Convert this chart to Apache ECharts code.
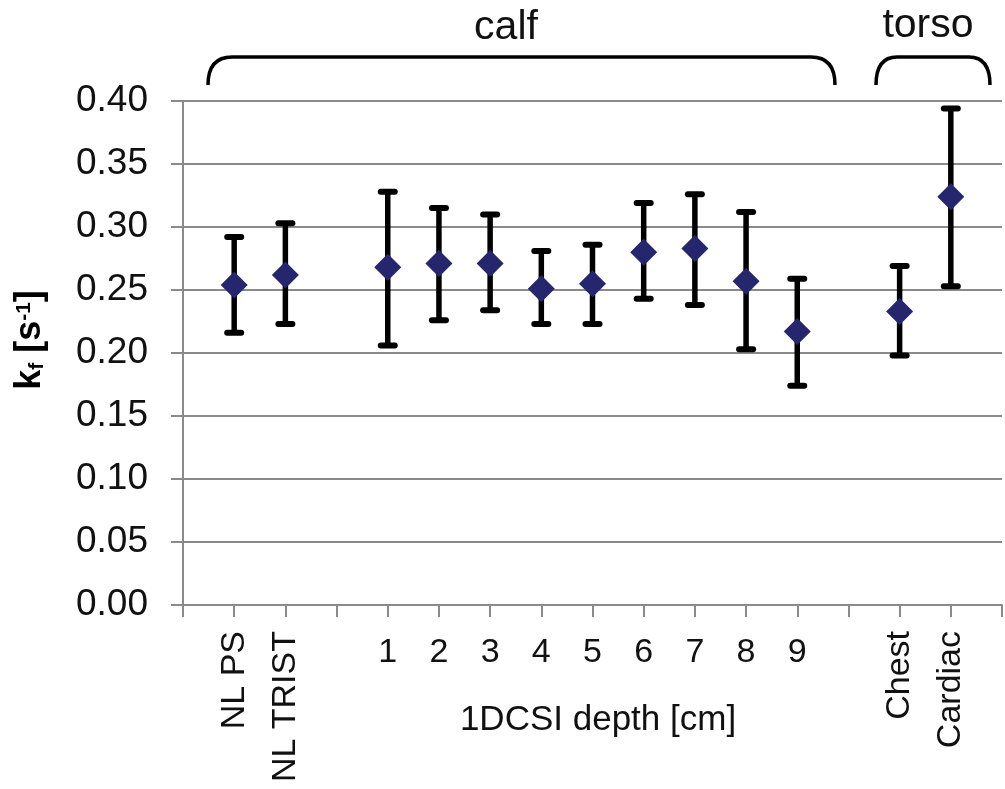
<!DOCTYPE html>
<html>
<head>
<meta charset="utf-8">
<script src="https://cdn.jsdelivr.net/npm/echarts@6/dist/echarts.min.js"></script>
<style>
  html, body { margin: 0; padding: 0; background: #fff; }
  #chart { width: 1005px; height: 789px; }
</style>
</head>
<body>
<div id="chart"></div>
<script>
// ---- data ----
// category slots along the x axis (blank slots are spacers)
const categories = ['', 'NL PS', 'NL TRIST', '', '1', '2', '3', '4', '5', '6', '7', '8', '9', '', 'Chest', 'Cardiac', ''];
const rotatedLabels = ['NL PS', 'NL TRIST', 'Chest', 'Cardiac'];
const digitLabels = ['1', '2', '3', '4', '5', '6', '7', '8', '9'];
// k_f values (mean), upper and lower error bar ends, per slot
const means = [null, 0.254, 0.262, null, 0.268, 0.271, 0.271, 0.251, 0.255, 0.280, 0.283, 0.257, 0.217, null, 0.233, 0.324, null];
const upper = [null, 0.292, 0.303, null, 0.328, 0.315, 0.310, 0.281, 0.286, 0.319, 0.326, 0.312, 0.259, null, 0.269, 0.394, null];
const lower = [null, 0.216, 0.223, null, 0.206, 0.226, 0.234, 0.223, 0.223, 0.243, 0.238, 0.203, 0.174, null, 0.198, 0.253, null];
const yTicks = [0, 0.05, 0.10, 0.15, 0.20, 0.25, 0.30, 0.35, 0.40];
const groupLabels = ['calf', 'torso'];

const slotKeys = categories.map((c, i) => 'slot' + i);
const scatterData = [];
const errData = [];
means.forEach((m, i) => {
  if (m !== null) {
    scatterData.push([i, m]);
    errData.push([i, upper[i], lower[i]]);
  }
});

const FONT = '"Liberation Sans", Arial, sans-serif';
const GRAY = '#8a8a8a';
const TEXT = '#111';

function brace(x1, x2, yTop, yBot, r) {
  const st = { fill: 'none', stroke: '#000', lineWidth: 3.5 };
  return [
    { type: 'bezierCurve', shape: { x1: x1, y1: yBot, cpx1: x1, cpy1: yTop, x2: x1 + r, y2: yTop }, style: st },
    { type: 'line', shape: { x1: x1 + r, y1: yTop, x2: x2 - r, y2: yTop }, style: st },
    { type: 'bezierCurve', shape: { x1: x2 - r, y1: yTop, cpx1: x2, cpy1: yTop, x2: x2, y2: yBot }, style: st }
  ];
}

const chart = echarts.init(document.getElementById('chart'), null, { renderer: 'canvas' });

const option = {
  backgroundColor: '#ffffff',
  animation: false,
  grid: { left: 183, right: 0, top: 101, bottom: 184, containLabel: false },
  xAxis: [
    {
      type: 'category',
      data: slotKeys,
      boundaryGap: false,
      axisLine: { show: true, lineStyle: { color: GRAY, width: 2 } },
      axisTick: { show: true, inside: false, length: 12, interval: 0, lineStyle: { color: GRAY, width: 2 } },
      axisLabel: {
        interval: 0,
        rotate: 90,
        margin: 26,
        fontFamily: FONT,
        fontSize: 34,
        color: TEXT,
        formatter: function (v, idx) {
          const c = categories[idx];
          return rotatedLabels.indexOf(c) >= 0 ? c : '';
        }
      },
      splitLine: { show: false }
    },
    {
      type: 'category',
      data: slotKeys,
      boundaryGap: false,
      position: 'bottom',
      axisLine: { show: false },
      axisTick: { show: false },
      axisLabel: {
        interval: 0,
        rotate: 0,
        margin: 31,
        fontFamily: FONT,
        fontSize: 34,
        color: TEXT,
        formatter: function (v, idx) {
          const c = categories[idx];
          return digitLabels.indexOf(c) >= 0 ? c : '';
        }
      },
      splitLine: { show: false }
    }
  ],
  yAxis: {
    type: 'value',
    min: yTicks[0],
    max: yTicks[yTicks.length - 1],
    interval: 0.05,
    axisLine: { show: true, lineStyle: { color: GRAY, width: 2 } },
    axisTick: { show: true, inside: false, length: 12, lineStyle: { color: GRAY, width: 2 } },
    axisLabel: {
      margin: 35,
      fontFamily: FONT,
      fontSize: 37,
      color: TEXT,
      formatter: function (v) { return v.toFixed(2); }
    },
    splitLine: { show: true, lineStyle: { color: GRAY, width: 2 } }
  },
  graphic: [
    {
      type: 'text',
      x: 30, y: 340,
      rotation: Math.PI / 2,
      style: {
        text: '{b|k}{sub|f}{b| [s}{sup|-1}{b|]}',
        align: 'center',
        verticalAlign: 'middle',
        fill: '#000',
        rich: {
          b: { fontFamily: FONT, fontWeight: 'bold', fontSize: 36, lineHeight: 40, verticalAlign: 'middle' },
          sub: { fontFamily: FONT, fontWeight: 'bold', fontSize: 21, lineHeight: 21, verticalAlign: 'bottom', padding: [0, 0, 2, 0] },
          sup: { fontFamily: FONT, fontWeight: 'bold', fontSize: 21, lineHeight: 21, verticalAlign: 'top', padding: [4, 0, 0, 0] }
        }
      }
    },
    {
      type: 'text',
      x: 598, y: 720,
      style: {
        text: '1DCSI depth [cm]',
        align: 'center',
        verticalAlign: 'middle',
        fontFamily: FONT,
        fontSize: 35,
        fill: TEXT
      }
    },
    {
      type: 'text',
      x: 506, y: 28,
      style: { text: groupLabels[0], align: 'center', verticalAlign: 'middle', fontFamily: FONT, fontSize: 41, fill: TEXT }
    },
    {
      type: 'text',
      x: 928, y: 26,
      style: { text: groupLabels[1], align: 'center', verticalAlign: 'middle', fontFamily: FONT, fontSize: 41, fill: TEXT }
    }
  ].concat(brace(208, 835, 57, 85, 24), brace(876, 990, 57, 85, 21)),
  series: [
    {
      type: 'custom',
      xAxisIndex: 0,
      encode: { x: 0, y: [1, 2] },
      data: errData,
      z: 2,
      renderItem: function (params, api) {
        const idx = api.value(0);
        const pHi = api.coord([idx, api.value(1)]);
        const pLo = api.coord([idx, api.value(2)]);
        const w = 7;
        const st = { stroke: '#000', lineWidth: 6, lineCap: 'round' };
        return {
          type: 'group',
          children: [
            { type: 'line', shape: { x1: pHi[0], y1: pHi[1], x2: pLo[0], y2: pLo[1] }, style: { stroke: '#000', lineWidth: 5.5 } },
            { type: 'line', shape: { x1: pHi[0] - w, y1: pHi[1], x2: pHi[0] + w, y2: pHi[1] }, style: st },
            { type: 'line', shape: { x1: pLo[0] - w, y1: pLo[1], x2: pLo[0] + w, y2: pLo[1] }, style: st }
          ]
        };
      }
    },
    {
      type: 'scatter',
      xAxisIndex: 0,
      data: scatterData,
      symbol: 'diamond',
      symbolSize: 27,
      itemStyle: { color: '#26266e', opacity: 1 },
      z: 3
    }
  ]
};

chart.setOption(option);
</script>
</body>
</html>
